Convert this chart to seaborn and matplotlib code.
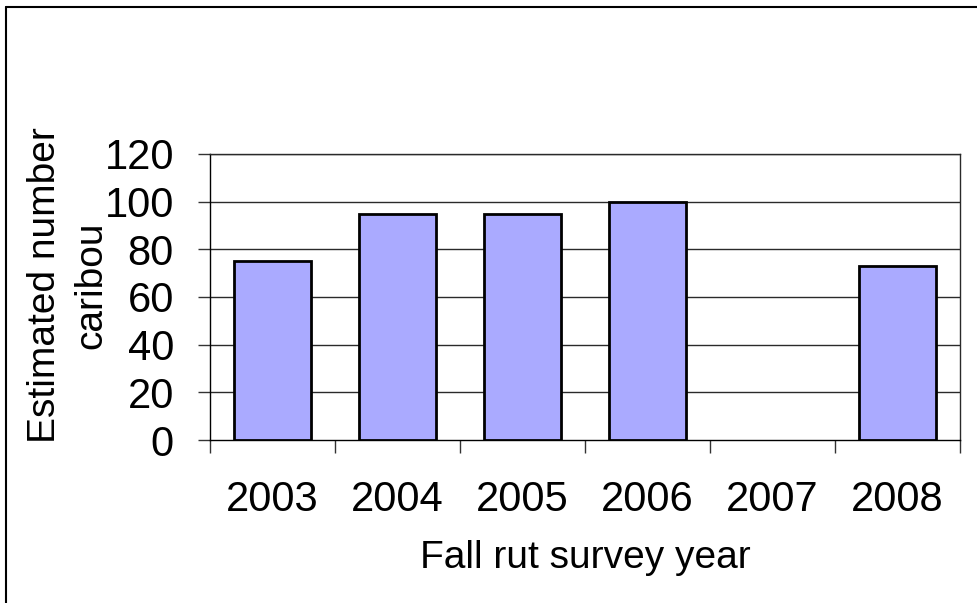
import matplotlib
matplotlib.use("Agg")
import matplotlib.pyplot as plt
from matplotlib.lines import Line2D
import seaborn as sns
import pandas as pd
import numpy as np

years = ["2003", "2004", "2005", "2006", "2007", "2008"]
caribou = [75, 95, 95, 100, np.nan, 73]
y_ticks = [0, 20, 40, 60, 80, 100, 120]

sns.set_theme(style="white")
plt.rcParams["font.family"] = ["Liberation Sans", "DejaVu Sans"]
plt.rcParams["text.color"] = "black"
plt.rcParams["axes.labelcolor"] = "black"
plt.rcParams["xtick.color"] = "black"
plt.rcParams["ytick.color"] = "black"

df = pd.DataFrame({"year": years, "count": caribou})

W, H = 978, 603
fig = plt.figure(figsize=(W / 100, H / 100), dpi=100)
fig.patch.set_facecolor("white")
ax = fig.add_axes([210 / W, 1 - 440 / H, 750 / W, 286 / H])

sns.barplot(data=df, x="year", y="count", order=years, color="#AAAAFF",
            saturation=1, width=0.62, edgecolor="black", linewidth=2.0, ax=ax, zorder=3)

ax.set_ylim(0, 120)
ax.set_xlim(-0.5, len(years) - 0.5)
ax.set_yticks(y_ticks)
ax.set_yticklabels([str(t) for t in y_ticks])
for t in y_ticks[1:]:
    ax.axhline(t, color="#2a2a2a", linewidth=1.0, zorder=1)

# ticks on the category boundaries, labels at the centres
ax.set_xticks(np.arange(len(years)))
ax.set_xticklabels(years)
ax.set_xticks(np.arange(len(years) + 1) - 0.5, minor=True)
ax.tick_params(axis="x", which="major", length=0, pad=29, labelsize=30, labelcolor="black")
ax.tick_params(axis="x", which="minor", length=9, width=1, color="#333333", direction="out", bottom=True)
ax.tick_params(axis="y", which="major", length=9, width=1, color="#333333", direction="out",
               pad=17, labelsize=30, labelcolor="black", left=True)

for s in ax.spines.values():
    s.set_visible(True)
    s.set_color("black")
    s.set_linewidth(1.0)
ax.spines["top"].set_color("#2a2a2a")
ax.spines["right"].set_color("#2a2a2a")

ax.set_xlabel("Fall rut survey year", fontsize=28, color="black")
ax.xaxis.set_label_coords(0.5, (440 - 540) / 286)
ax.set_ylabel("Estimated number\ncaribou", fontsize=28, color="black", linespacing=1.35)
ax.yaxis.set_label_coords((109 - 210) / 750, (440 - 285) / 286)

# outer frame lines on the left and top edges of the figure
fig.add_artist(Line2D([6.5 / W, 6.5 / W], [0, 1 - 6.5 / H], color="black", linewidth=1.5,
                      transform=fig.transFigure))
fig.add_artist(Line2D([6.5 / W, 1], [1 - 6.5 / H, 1 - 6.5 / H], color="black", linewidth=1.5,
                      transform=fig.transFigure))

fig.savefig("out.png", dpi=100, facecolor="white")
